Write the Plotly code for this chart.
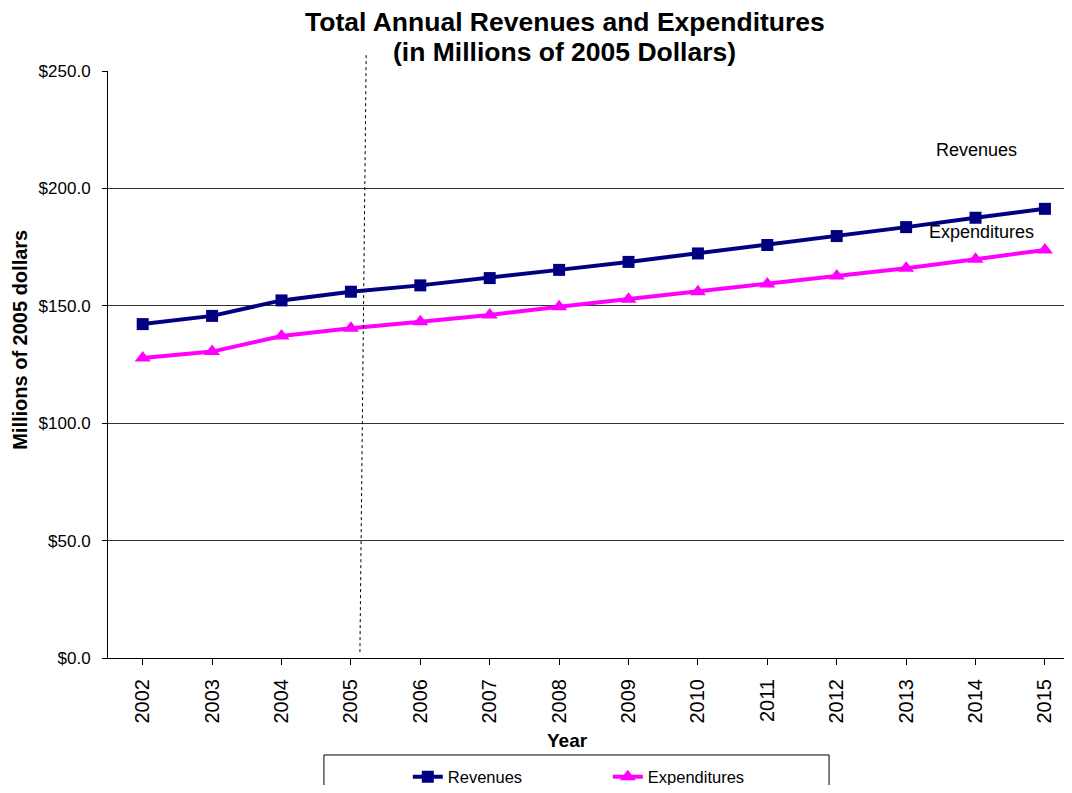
import plotly.graph_objects as go

# Data (millions of 2005 dollars)
years = [2002, 2003, 2004, 2005, 2006, 2007, 2008, 2009, 2010, 2011, 2012, 2013, 2014, 2015]
revenues = [142.2, 145.7, 152.3, 156.0, 158.7, 161.8, 165.3, 168.7, 172.3, 175.9, 179.7, 183.5, 187.5, 191.3]
expenditures = [127.8, 130.5, 137.1, 140.4, 143.2, 146.1, 149.6, 152.8, 156.0, 159.3, 162.7, 166.0, 169.8, 173.8]
y_ticks = [0, 50, 100, 150, 200, 250]
y_labels = ["$0.0", "$50.0", "$100.0", "$150.0", "$200.0", "$250.0"]

FONT = "Liberation Sans, Arial, sans-serif"
NAVY = "#000080"
MAGENTA = "#FF00FF"

fig = go.Figure()

fig.add_trace(go.Scatter(
    x=years, y=revenues, name="Revenues", mode="lines+markers",
    line=dict(color=NAVY, width=4),
    marker=dict(symbol="square", size=12, color=NAVY),
))
fig.add_trace(go.Scatter(
    x=years, y=expenditures, name="Expenditures", mode="lines+markers",
    line=dict(color=MAGENTA, width=4),
    marker=dict(symbol="triangle-up", size=14, color=MAGENTA),
))

# dotted reference line near the 2005 base year
fig.add_shape(type="line", xref="x", yref="paper",
              x0=2005.13, y0=0.01, x1=2005.22, y1=1.027,
              line=dict(color="black", width=1, dash="dot"))

# legend box (runs off the bottom of the page like the original)
fig.add_shape(type="rect", xref="paper", yref="paper",
              x0=0.224, y0=-0.1652, x1=0.748, y1=-0.35,
              line=dict(color="black", width=1), fillcolor="white", layer="below")

# in-plot series labels
fig.add_annotation(x=2014.01, y=216.4, xref="x", yref="y", text="Revenues",
                   showarrow=False, font=dict(size=18, color="black", family=FONT))
fig.add_annotation(x=2014.08, y=181.4, xref="x", yref="y", text="Expenditures",
                   showarrow=False, font=dict(size=18, color="black", family=FONT))

# two-line title
fig.add_annotation(x=0.474, y=1.0835, xref="paper", yref="paper", xanchor="center", yanchor="middle",
                   text="<b>Total Annual Revenues and Expenditures</b>", showarrow=False,
                   font=dict(size=26.5, color="black", family=FONT))
fig.add_annotation(x=0.474, y=1.0324, xref="paper", yref="paper", xanchor="center", yanchor="middle",
                   text="<b>(in Millions of 2005 Dollars)</b>", showarrow=False,
                   font=dict(size=26.5, color="black", family=FONT))

# y axis title overlapping the tick labels, as in the reference
fig.add_annotation(x=-0.0913, y=0.542, xref="paper", yref="paper", xanchor="center", yanchor="middle",
                   text="<b>Millions of 2005 dollars</b>", textangle=-90,
                   showarrow=False, font=dict(size=20, color="black", family=FONT))

# x axis title
fig.add_annotation(x=0.477, y=-0.1397, xref="paper", yref="paper", xanchor="center", yanchor="middle",
                   text="<b>Year</b>", showarrow=False,
                   font=dict(size=19, color="black", family=FONT))

# page body adds an 8px margin, so the figure is 8px smaller on each used side
fig.update_layout(
    width=1064, height=777,
    margin=dict(l=100, r=0, t=63, b=127),
    paper_bgcolor="white", plot_bgcolor="white",
    font=dict(family=FONT, color="black"),
    showlegend=True,
    legend=dict(orientation="h", x=0.311, xanchor="left",
                yref="container", y=0.0103, yanchor="middle",
                bgcolor="rgba(0,0,0,0)", borderwidth=0,
                font=dict(size=16.5, color="black", family=FONT),
                entrywidth=155),
)

fig.update_xaxes(
    range=[2001.5, 2015.39], tickmode="array", tickvals=years,
    ticktext=[str(y) for y in years], tickangle=-90,
    tickfont=dict(size=20, color="black", family=FONT),
    showline=True, linecolor="black", linewidth=1,
    ticks="outside", ticklen=6, tickcolor="black", ticklabelstandoff=6,
    showgrid=False, zeroline=False,
)
fig.update_yaxes(
    range=[0, 250], tickmode="array", tickvals=y_ticks, ticktext=y_labels,
    tickfont=dict(size=17, color="black", family=FONT),
    showline=True, linecolor="black", linewidth=1,
    ticks="outside", ticklen=5, tickcolor="black", ticklabelstandoff=8,
    showgrid=True, gridcolor="#333333", gridwidth=1, zeroline=False,
)

fig.write_html("out.html")
